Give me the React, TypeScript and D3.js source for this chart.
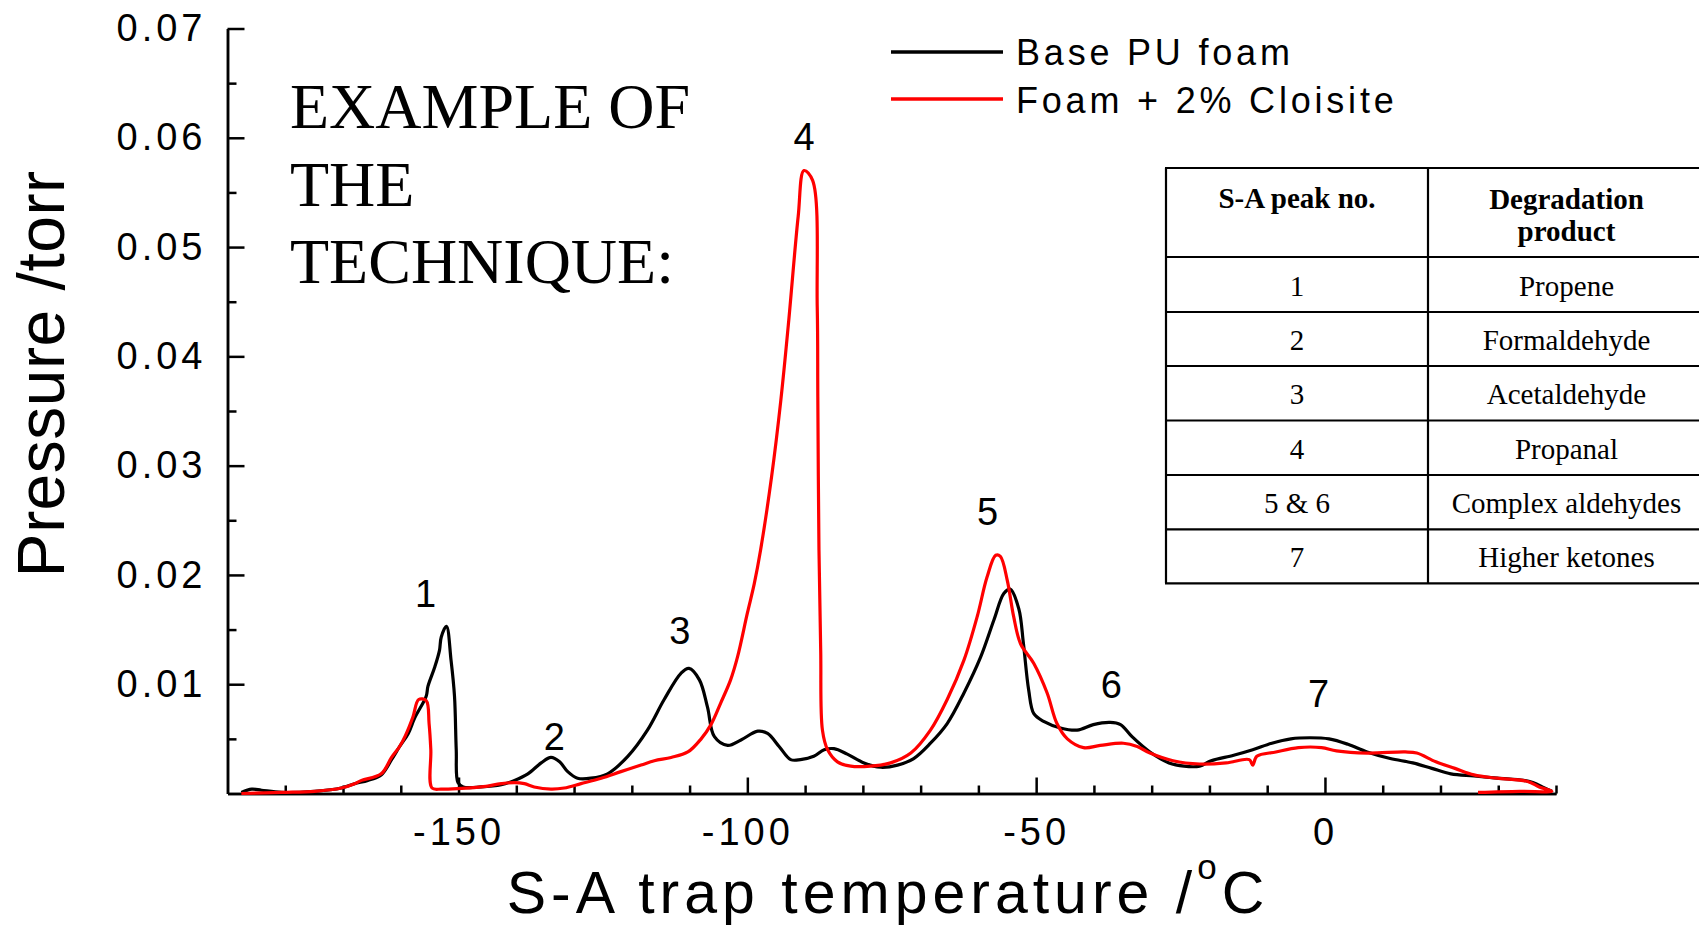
import React, { useEffect, useRef } from 'react';
import * as d3 from 'd3';

// Base PU foam (black)
const baseTemp = [
  -187.6, -185.8, -184.1, -180.6, -174.9, -170.3, -168.0, -165.7, -163.4, -161.6,
  -160.2, -158.7, -157.6, -155.6, -155.3, -154.1, -153.3, -153.0, -152.1, -151.3,
  -150.7, -150.4, -150.1, -149.2, -146.1, -142.6, -140.3, -138.0, -135.7, -134.0,
  -132.5, -131.1, -129.4, -127.1, -124.2, -120.7, -117.3, -114.4, -111.5, -110.1,
  -108.3, -106.9, -105.7, -103.4, -101.1, -98.2, -96.5, -94.5, -92.5, -90.8,
  -88.5, -86.7, -85.0, -82.7, -79.8, -76.9, -74.0, -71.2, -68.3, -65.4,
  -62.5, -59.6, -57.3, -55.6, -54.5, -53.0, -52.2, -51.3, -50.4, -48.7,
  -45.8, -42.9, -40.1, -37.2, -35.4, -33.4, -30.3, -27.0, -24.4, -21.7,
  -19.7, -15.8, -12.5, -9.2, -5.9, -2.6, 0.7, 4.0, 7.3, 11.3,
  15.2, 18.5, 21.8, 25.8, 29.8, 34.4, 36.0, 38.0, 39.3,
];
const basePressure = [
  0.0001, 0.0004, 0.0003, 0.0001, 0.0002, 0.0005, 0.0009, 0.0012, 0.0017, 0.0031,
  0.0043, 0.0055, 0.0069, 0.0089, 0.0098, 0.0116, 0.0131, 0.0143, 0.0153, 0.0122,
  0.0089, 0.0040, 0.0010, 0.0006, 0.0006, 0.0008, 0.0012, 0.0018, 0.0028, 0.0033,
  0.0029, 0.0020, 0.0014, 0.0014, 0.0018, 0.0034, 0.0058, 0.0086, 0.0110, 0.01145,
  0.0104, 0.0079, 0.0052, 0.0044, 0.0049, 0.0057, 0.0055, 0.0043, 0.0031, 0.0031,
  0.0034, 0.0040, 0.0041, 0.0036, 0.0028, 0.0024, 0.0026, 0.0032, 0.0046, 0.0064,
  0.0092, 0.0125, 0.0159, 0.0183, 0.0187, 0.0169, 0.0137, 0.0095, 0.0073, 0.0066,
  0.0060, 0.0058, 0.0063, 0.0065, 0.0063, 0.0052, 0.0038, 0.0028, 0.0025, 0.0025,
  0.0030, 0.0035, 0.0040, 0.0046, 0.0050, 0.0051, 0.0050, 0.0045, 0.0038, 0.0032,
  0.0028, 0.0023, 0.0018, 0.0016, 0.0014, 0.0012, 0.0010, 0.0005, 0.0002,
];

// Foam + 2% Cloisite (red)
const clayTemp = [
  -187.6, -180.6, -174.9, -170.3, -168.0, -166.8, -163.4, -161.6, -160.2, -159.2,
  -157.9, -156.9, -155.6, -155.1, -154.8, -154.6, -153.0, -151.8, -146.1, -142.6,
  -140.3, -138.6, -136.9, -134.0, -131.7, -128.8, -125.3, -121.9, -118.4, -116.1,
  -113.2, -110.3, -108.0, -106.3, -104.6, -102.9, -101.7, -100.0, -98.8, -97.7,
  -95.8, -94.2, -92.9, -91.2, -90.2, -88.7, -87.9, -87.8, -87.6, -87.3,
  -87.0, -86.1, -84.4, -82.1, -78.7, -75.2, -71.7, -68.3, -65.4, -62.5,
  -60.2, -58.5, -57.0, -56.2, -55.0, -53.9, -52.7, -50.4, -48.1, -46.4,
  -44.6, -41.8, -38.9, -34.9, -32.5, -30.3, -26.3, -21.7, -17.1, -13.1,
  -12.5, -11.8, -8.5, -4.6, -0.6, 2.0, 7.3, 13.9, 15.9, 19.2,
  22.5, 25.8, 29.8, 35.1, 37.1, 39.3, 33.7, 26.5,
];
const clayPressure = [
  0.0000, 0.0001, 0.0002, 0.0005, 0.0009, 0.0012, 0.0018, 0.0033, 0.0043, 0.0053,
  0.0070, 0.0086, 0.0085, 0.0064, 0.0040, 0.0005, 0.0004, 0.0004, 0.0006, 0.0009,
  0.0010, 0.0009, 0.0006, 0.0004, 0.0005, 0.0009, 0.0014, 0.0020, 0.0026, 0.0030,
  0.0033, 0.0038, 0.0050, 0.0063, 0.0083, 0.0104, 0.0125, 0.0165, 0.0192, 0.0223,
  0.0290, 0.0360, 0.0429, 0.0528, 0.0570, 0.0561, 0.0445, 0.0363, 0.0223, 0.0131,
  0.0058, 0.0040, 0.0029, 0.0025, 0.0025, 0.0028, 0.0037, 0.0058, 0.0086, 0.0122,
  0.0162, 0.0198, 0.0218, 0.0217, 0.0195, 0.0162, 0.0137, 0.0119, 0.0092, 0.0064,
  0.0050, 0.0042, 0.0044, 0.0046, 0.0043, 0.0037, 0.0030, 0.0027, 0.0028, 0.0031,
  0.0026, 0.0034, 0.0038, 0.0042, 0.0042, 0.0039, 0.0037, 0.0038, 0.0037, 0.0029,
  0.0023, 0.0017, 0.0014, 0.0011, 0.0006, 0.0002, 0.0002, 0.0001,
];

const seriesNames = ['Base PU foam', 'Foam + 2% Cloisite'];
const seriesColors = ['#000000', '#ff0000'];

// peak numbers written on the plot
const peakNames = ['1', '2', '3', '4', '5', '6', '7'];
const peakTemp = [-155.7, -133.4, -111.7, -90.2, -58.4, -37.0, -1.1];
const peakPressure = [0.0171, 0.0040, 0.0137, 0.0589, 0.0246, 0.0087, 0.0079];

const xMajorTicks = [-150, -100, -50, 0];
const xMinorTicks = [-180, -170, -160, -140, -130, -120, -110, -90, -80, -70, -60, -40, -30, -20, -10, 10, 20, 30, 40];
const yMajorTicks = [0.01, 0.02, 0.03, 0.04, 0.05, 0.06, 0.07];
const yMinorTicks = [0.005, 0.015, 0.025, 0.035, 0.045, 0.055, 0.065];

const noteLines = ['EXAMPLE OF', 'THE', 'TECHNIQUE:'];

const tableHeader1 = ['S-A peak no.'];
const tableHeader2 = ['Degradation', 'product'];
const tablePeaks = ['1', '2', '3', '4', '5 & 6', '7'];
const tableProducts = ['Propene', 'Formaldehyde', 'Acetaldehyde', 'Propanal', 'Complex aldehydes', 'Higher ketones'];

const W = 1699;
const H = 929;
const SANS = '"Liberation Sans", Arial, Helvetica, sans-serif';
const SERIF = '"Liberation Serif", "Times New Roman", serif';

const App: React.FC = () => {
  const svgRef = useRef<SVGSVGElement>(null);

  useEffect(() => {
    const svg = d3.select(svgRef.current);
    svg.selectAll('*').remove();

    const x = d3.scaleLinear().domain([-190, 40]).range([227.5, 1556]);
    const y = d3.scaleLinear().domain([0, 0.07]).range([793.5, 28.5]);

    const styleAxis = (g: any) => {
      g.select('.domain').attr('stroke', '#000').attr('stroke-width', 2.5);
      g.selectAll('.tick line').attr('stroke', '#000').attr('stroke-width', 2.5);
      g.selectAll('.tick text')
        .attr('fill', '#000')
        .style('font-family', SANS)
        .style('font-size', '38px')
        .style('letter-spacing', '4px');
    };

    // x axis
    svg.append('g')
      .attr('transform', `translate(0,${y(0)})`)
      .call(d3.axisBottom(x).tickValues(xMinorTicks).tickSize(-8).tickSizeOuter(0).tickFormat(() => ''))
      .call(styleAxis);
    svg.append('g')
      .attr('transform', `translate(0,${y(0)})`)
      .call(d3.axisBottom(x).tickValues(xMajorTicks).tickSize(-16).tickSizeOuter(0).tickPadding(24.5)
        .tickFormat(d => String(d)))
      .call(styleAxis);

    // y axis
    svg.append('g')
      .attr('transform', `translate(${x(-190)},0)`)
      .call(d3.axisLeft(y).tickValues(yMinorTicks).tickSize(-9).tickSizeOuter(0).tickFormat(() => ''))
      .call(styleAxis);
    svg.append('g')
      .attr('transform', `translate(${x(-190)},0)`)
      .call(d3.axisLeft(y).tickValues(yMajorTicks).tickSize(-17).tickSizeOuter(0).tickPadding(21)
        .tickFormat(d => (+d).toFixed(2)))
      .call(styleAxis);

    // axis titles
    svg.append('text')
      .attr('transform', `translate(64,374) rotate(-90)`)
      .attr('text-anchor', 'middle')
      .style('font-family', SANS)
      .style('font-size', '66px')
      .style('letter-spacing', '0.5px')
      .text('Pressure /torr');

    const xt = svg.append('text')
      .attr('x', 888)
      .attr('y', 913)
      .attr('text-anchor', 'middle')
      .style('font-family', SANS)
      .style('font-size', '59px')
      .style('letter-spacing', '5px');
    xt.append('tspan').text('S-A trap temperature /');
    xt.append('tspan').attr('dy', -34).style('font-size', '35px').text('o');
    xt.append('tspan').attr('dy', 34).text('C');

    // curves
    const line = d3.line<[number, number]>()
      .x(d => x(d[0]))
      .y(d => y(d[1]))
      .curve(d3.curveCatmullRom.alpha(0.5));

    const series: [number, number][][] = [
      baseTemp.map((t, i) => [t, basePressure[i]]),
      clayTemp.map((t, i) => [t, clayPressure[i]]),
    ];

    series.forEach((pts, i) => {
      svg.append('path')
        .datum(pts)
        .attr('fill', 'none')
        .attr('stroke', seriesColors[i])
        .attr('stroke-width', 3.2)
        .attr('stroke-linejoin', 'round')
        .attr('d', line);
    });

    // peak numbers
    svg.append('g')
      .selectAll('text')
      .data(peakNames)
      .join('text')
      .attr('x', (d, i) => x(peakTemp[i]))
      .attr('y', (d, i) => y(peakPressure[i]))
      .attr('text-anchor', 'middle')
      .style('font-family', SANS)
      .style('font-size', '38px')
      .text(d => d);

    // legend
    const legend = svg.append('g');
    seriesNames.forEach((name, i) => {
      const ly = 52 + i * 47;
      legend.append('line')
        .attr('x1', 891).attr('x2', 1003)
        .attr('y1', ly).attr('y2', ly)
        .attr('stroke', seriesColors[i])
        .attr('stroke-width', 3.5);
      legend.append('text')
        .attr('x', 1016)
        .attr('y', 65 + i * 48)
        .style('font-family', SANS)
        .style('font-size', '36px')
        .style('letter-spacing', '3.8px')
        .text(name);
    });

    // "EXAMPLE OF THE TECHNIQUE:"
    svg.append('g')
      .selectAll('text')
      .data(noteLines)
      .join('text')
      .attr('x', 290)
      .attr('y', (d, i) => 128 + i * 77.5)
      .style('font-family', SERIF)
      .style('font-size', '64px')
      .text(d => d);

    // table
    const colX = [1166, 1428, 1705];
    const rowY = [168, 257, 312, 366, 420.5, 475, 529.3, 583.3];
    const tbl = svg.append('g');
    rowY.forEach(ry => {
      tbl.append('line').attr('x1', colX[0] - 1).attr('x2', colX[2]).attr('y1', ry).attr('y2', ry)
        .attr('stroke', '#000').attr('stroke-width', 2.2);
    });
    colX.forEach(cx => {
      tbl.append('line').attr('x1', cx).attr('x2', cx).attr('y1', rowY[0]).attr('y2', rowY[rowY.length - 1])
        .attr('stroke', '#000').attr('stroke-width', 2.2);
    });
    const c1 = (colX[0] + colX[1]) / 2;
    const c2 = (colX[1] + colX[2]) / 2;
    const cellText = (cx: number, cy: number, s: string, bold: boolean) =>
      tbl.append('text')
        .attr('x', cx)
        .attr('y', cy)
        .attr('text-anchor', 'middle')
        .style('font-family', SERIF)
        .style('font-size', '29px')
        .style('font-weight', bold ? 'bold' : 'normal')
        .text(s);
    tableHeader1.forEach((s, i) => cellText(c1, 208 + i * 31.5, s, true));
    tableHeader2.forEach((s, i) => cellText(c2, 209 + i * 31.5, s, true));
    tablePeaks.forEach((s, i) => cellText(c1, (rowY[i + 1] + rowY[i + 2]) / 2 + 11, s, false));
    tableProducts.forEach((s, i) => cellText(c2, (rowY[i + 1] + rowY[i + 2]) / 2 + 11, s, false));
  }, []);

  return (
    <svg
      ref={svgRef}
      width={W}
      height={H}
      style={{ position: 'absolute', left: 0, top: 0, background: '#fff' }}
    />
  );
};

export default App;
